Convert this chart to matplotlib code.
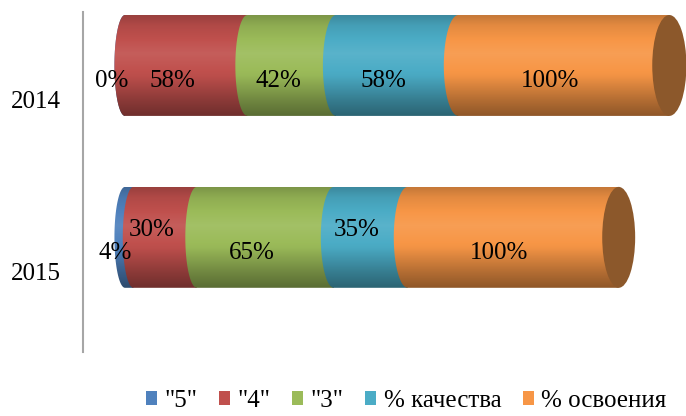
import numpy as np
import matplotlib
matplotlib.use("Agg")
import matplotlib.pyplot as plt
from matplotlib.path import Path
from matplotlib.patches import PathPatch, Ellipse, Patch
from matplotlib.colors import to_rgb

years = ["2014", "2015"]
series = ['"5"', '"4"', '"3"', "% качества", "% освоения"]
vals_2014 = [0, 58, 42, 58, 100]
vals_2015 = [4, 30, 65, 35, 100]
values = [vals_2014, vals_2015]

colors = ["#4F81BD", "#C0504D", "#9BBB59", "#4BACC6", "#F79646"]
cap_color = "#8C582B"

plt.rcParams["font.family"] = ["Liberation Serif", "DejaVu Serif"]
FS = 18

fig = plt.figure(figsize=(6.86, 4.16), dpi=100)
W, H = 686, 416
ax = fig.add_axes([83 / W, 1 - 352 / H, (686 - 83) / W, (352 - 12) / H])

x0, x1 = -19.9, 265.9
y_top, y_bot = -0.311, 1.667
bar_h = 0.587
b = bar_h / 2


def half_a(v):
    return 5.0 + 0.012 * v


def shade(rgb, f):
    rgb = np.array(rgb)
    if f >= 1:
        return rgb + (1 - rgb) * (f - 1)
    return rgb * f


# vertical brightness profile (top -> bottom)
prof_y = np.linspace(0, 1, 120)
prof = np.interp(prof_y, [0, 0.1, 0.38, 0.6, 0.85, 1.0], [0.80, 0.92, 1.08, 0.98, 0.72, 0.58])

label_dy = [[0.09, 0.09, 0.09, 0.09, 0.09], [0.09, -0.04, 0.09, -0.04, 0.09]]

for i, row in enumerate(values):
    yc = i
    starts = np.concatenate([[0], np.cumsum(row)[:-1]])
    ends = np.cumsum(row)
    for j, (s, e) in enumerate(zip(starts, ends)):
        a = half_a(s)
        th = np.linspace(np.pi / 2, 3 * np.pi / 2, 60)
        xs = s + a * np.cos(th)
        ys = yc + b * np.sin(th)
        verts = list(zip(xs, ys)) + [(e, yc - b), (e, yc + b), (xs[0], ys[0])]
        codes = [Path.MOVETO] + [Path.LINETO] * (len(verts) - 2) + [Path.CLOSEPOLY]
        patch = PathPatch(Path(verts, codes), facecolor="none", edgecolor="none")
        ax.add_patch(patch)
        base = to_rgb(colors[j])
        img = np.array([shade(base, f) for f in prof]).reshape(-1, 1, 3)
        img = np.clip(img, 0, 1)
        im = ax.imshow(img, extent=(s - a - 1, e + 1, yc + b, yc - b), origin="upper",
                       aspect="auto", interpolation="bilinear", zorder=2)
        im.set_clip_path(patch)
    # end cap
    end = ends[-1]
    ae = half_a(end)
    cap = Ellipse((end, yc), 2 * ae, bar_h, facecolor=cap_color, edgecolor="none", zorder=3)
    ax.add_patch(cap)
    # labels
    for j, (s, e) in enumerate(zip(starts, ends)):
        mid = (s + e) / 2
        ax.text(mid - 6.5, yc + label_dy[i][j], f"{row[j]}%", ha="center", va="center",
                fontsize=FS, color="black", zorder=5)

ax.set_xlim(x0, x1)
ax.set_ylim(y_bot, y_top)
ax.set_yticks(np.arange(len(years)) + 0.2)
ax.set_yticklabels(years, fontsize=FS)
ax.tick_params(axis="y", length=0, pad=16)
ax.set_xticks([])
for sp in ["top", "right", "bottom"]:
    ax.spines[sp].set_visible(False)
ax.spines["left"].set_color("#A6A6A6")
ax.spines["left"].set_linewidth(1.5)

handles = [Patch(facecolor=c, edgecolor="none") for c in colors]
fig.legend(handles, series, loc="center left", bbox_to_anchor=(146 / W, 1 - 401 / H),
           ncol=5, frameon=False, fontsize=FS, handlelength=0.45, handleheight=0.45,
           handletextpad=0.3, columnspacing=0.85, borderaxespad=0, borderpad=0)

fig.savefig("out.png", dpi=100)
